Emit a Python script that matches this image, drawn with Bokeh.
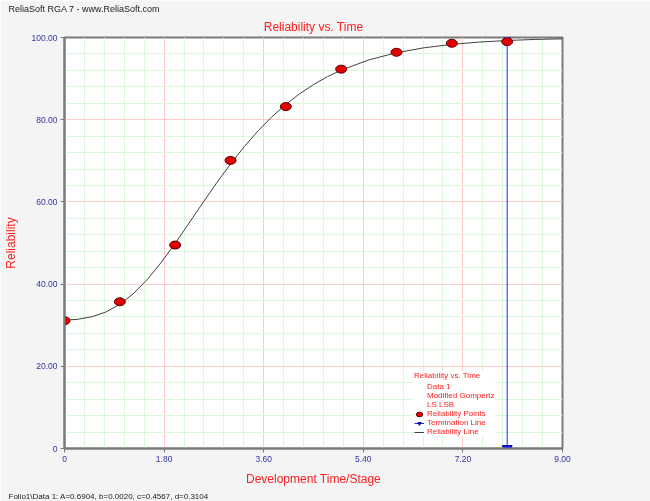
import numpy as np
from bokeh.plotting import figure
from bokeh.models import (Range1d, FixedTicker, Legend, LegendItem, Title,
                          InlineStyleSheet)
from bokeh.embed import file_html
from bokeh.resources import INLINE

# ---- data ----
stage = [0, 1, 2, 3, 4, 5, 6, 7, 8]
reliability_pts = [31.1, 35.7, 49.5, 70.1, 83.2, 92.3, 96.4, 98.6, 99.0]

curve_t = [0, 0.25, 0.5, 0.75, 1.0, 1.25, 1.5, 1.75, 2.0, 2.25, 2.5, 2.75, 3.0,
           3.25, 3.5, 3.75, 4.0, 4.25, 4.5, 4.75, 5.0, 5.5, 6.0, 6.5, 7.0, 7.5,
           8.0, 8.5, 9.0]
curve_r = [31.18, 31.46, 32.08, 33.22, 35.08, 37.74, 41.18, 45.31, 49.92, 54.82,
           59.78, 64.63, 69.23, 73.47, 77.31, 80.73, 83.72, 86.32, 88.55, 90.45,
           92.06, 94.55, 96.30, 97.50, 98.33, 98.89, 99.27, 99.53, 99.67]

termination_t = [8, 8]
termination_r = [0, 100]

x_ticks = [0, 1.8, 3.6, 5.4, 7.2, 9.0]
x_tick_labels = ["0", "1.80", "3.60", "5.40", "7.20", "9.00"]
y_ticks = [0, 20, 40, 60, 80, 100]
y_tick_labels = ["0", "20.00", "40.00", "60.00", "80.00", "100.00"]

header_text = "ReliaSoft RGA 7 - www.ReliaSoft.com"
title_text = "Reliability vs. Time"
status_text = "Folio1\\Data 1: A=0.6904, b=0.0020, c=0.4567, d=0.3104"
legend_title = "Reliability vs. Time"
legend_info = ["Data 1", "Modified Gompertz", "LS LSB"]

W, H = 650, 501
L, R, T, B = 58, 562, 37, 452
FONT = "Liberation Sans"
RED = "#ff2020"
TICK_BLUE = "#3535a0"

p = figure(width=W, height=H, output_backend="svg", toolbar_location=None,
           x_range=Range1d(0, 9), y_range=Range1d(0, 100),
           min_border_left=L, min_border_right=W - R, min_border_top=T,
           min_border_bottom=H - B, title=header_text)
p.stylesheets = [InlineStyleSheet(
    css=":host { position: fixed !important; left: 0px !important; top: 0px !important; }")]
p.border_fill_color = "#f4f4f4"
p.background_fill_color = "white"
p.outline_line_color = "#7a7a7a"
p.outline_line_width = 2

# header (outermost)
p.title.align = "left"
p.title.offset = -56
p.title.standoff = 2
p.title.text_font = FONT
p.title.text_font_size = "9px"
p.title.text_font_style = "normal"
p.title.text_color = "#222222"

# main title
p.add_layout(Title(text=title_text, align="center", text_font=FONT,
                   text_font_size="12px", text_font_style="normal",
                   text_color=RED, standoff=7), "above")

# axes
p.xaxis.ticker = FixedTicker(ticks=x_ticks, minor_ticks=list(np.arange(0, 9.001, 0.36)))
p.yaxis.ticker = FixedTicker(ticks=y_ticks, minor_ticks=list(np.arange(0, 100.01, 4)))
p.xaxis.major_label_overrides = dict(zip(x_ticks, x_tick_labels))
p.yaxis.major_label_overrides = dict(zip(y_ticks, y_tick_labels))
for ax in (p.xaxis, p.yaxis):
    ax.axis_line_color = "#7a7a7a"
    ax.axis_line_width = 2
    ax.major_tick_line_color = "#7a7a7a"
    ax.major_tick_out = 4
    ax.major_tick_in = 0
    ax.minor_tick_line_color = None
    ax.major_label_text_color = TICK_BLUE
    ax.major_label_text_font = FONT
    ax.major_label_text_font_size = "8.5px"
    ax.major_label_standoff = 3
    ax.axis_label_text_font = FONT
    ax.axis_label_text_font_size = "12px"
    ax.axis_label_text_font_style = "normal"
    ax.axis_label_text_color = RED
p.xaxis.axis_label = "Development Time/Stage"
p.yaxis.axis_label = "Reliability"
p.xaxis.axis_label_standoff = 7
p.yaxis.axis_label_standoff = 11

# status bar (below the x axis)
p.add_layout(Title(text=status_text, align="left", offset=-56, text_font=FONT,
                   text_font_size="8px", text_font_style="normal",
                   text_color="#222222", standoff=2), "below")

p.xgrid.grid_line_color = "#ffcccc"
p.ygrid.grid_line_color = "#ffcccc"
p.xgrid.minor_grid_line_color = "#dcf8dc"
p.ygrid.minor_grid_line_color = "#dcf8dc"

# reliability line
r_line = p.line(curve_t, curve_r, line_color="#404040", line_width=1)
# termination line
r_term = p.line(termination_t, termination_r, line_color="#2020ff", line_width=1)
r_tri = p.scatter(termination_t, termination_r, marker="inverted_triangle", size=10,
                  fill_color="#1a1aff", line_color="#000080")
# points
r_pts = p.ellipse(stage, reliability_pts, width=11, height=8, width_units="screen",
                  height_units="screen", fill_color="#e00000", line_color="#600000")

# invisible renderers carrying the legend's info lines
info_items = []
for txt in legend_info:
    r_blank = p.scatter(x=[], y=[], size=1, fill_alpha=0, line_alpha=0)
    info_items.append(LegendItem(label=txt, renderers=[r_blank]))

legend = Legend(items=info_items + [
    LegendItem(label="Reliability Points", renderers=[r_pts]),
    LegendItem(label="Termination Line", renderers=[r_term, r_tri]),
    LegendItem(label="Reliability Line", renderers=[r_line]),
], location=(350, 12), title=legend_title, orientation="vertical")
legend.title_text_font = FONT
legend.title_text_font_size = "8px"
legend.title_text_color = RED
legend.title_text_font_style = "normal"
legend.title_standoff = 2
legend.label_text_font = FONT
legend.label_text_font_size = "8px"
legend.label_text_color = RED
legend.label_height = 8
legend.glyph_height = 8
legend.glyph_width = 10
legend.label_standoff = 3
legend.spacing = 0
legend.padding = 3
legend.margin = 0
legend.border_line_color = None
legend.background_fill_color = "white"
legend.background_fill_alpha = 1
p.add_layout(legend)

open("out.html", "w").write(file_html(p, INLINE))
